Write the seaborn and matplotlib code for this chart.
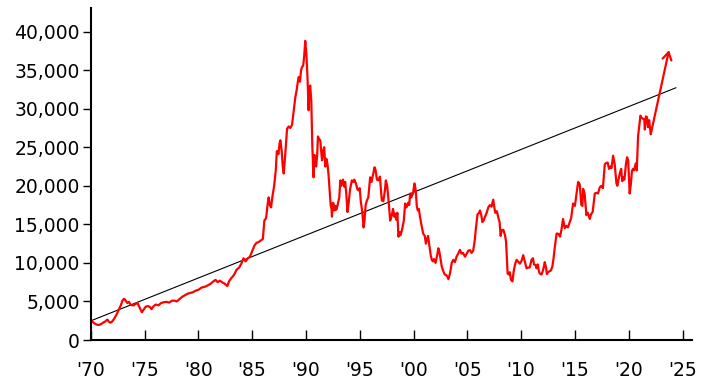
import matplotlib
matplotlib.use("Agg")
import matplotlib.pyplot as plt
import seaborn as sns
import pandas as pd

# ---- data ----
years = [
    1970.00, 1970.15, 1970.35, 1970.55, 1970.75, 1970.95, 1971.15, 1971.35, 1971.55, 1971.70,
    1971.85, 1972.00, 1972.20, 1972.40, 1972.60, 1972.80, 1972.95, 1973.10, 1973.25, 1973.40,
    1973.55, 1973.70, 1973.85, 1974.00, 1974.20, 1974.35, 1974.55, 1974.75, 1974.90, 1975.10,
    1975.30, 1975.50, 1975.65, 1975.85, 1976.05, 1976.30, 1976.55, 1976.80, 1977.05, 1977.30,
    1977.55, 1977.80, 1978.00, 1978.25, 1978.50, 1978.75, 1979.00, 1979.25, 1979.50, 1979.75,
    1980.00, 1980.30, 1980.60, 1980.90, 1981.15, 1981.40, 1981.60, 1981.80, 1982.00, 1982.20,
    1982.45, 1982.70, 1982.85, 1983.05, 1983.30, 1983.55, 1983.80, 1984.00, 1984.20, 1984.40,
    1984.60, 1984.80, 1985.00, 1985.20, 1985.40, 1985.60, 1985.80, 1986.00, 1986.14, 1986.30,
    1986.45, 1986.54, 1986.65, 1986.76, 1986.90, 1987.05, 1987.20, 1987.30, 1987.45, 1987.55,
    1987.63, 1987.75, 1987.85, 1987.94, 1988.05, 1988.15, 1988.25, 1988.40, 1988.55, 1988.71,
    1988.85, 1989.02, 1989.15, 1989.25, 1989.33, 1989.45, 1989.55, 1989.64, 1989.75, 1989.85,
    1989.94, 1990.05, 1990.15, 1990.25, 1990.33, 1990.40, 1990.50, 1990.60, 1990.71, 1990.80,
    1990.87, 1990.95, 1991.05, 1991.12, 1991.25, 1991.34, 1991.42, 1991.50, 1991.60, 1991.70,
    1991.80, 1991.90, 1992.00, 1992.10, 1992.20, 1992.30, 1992.38, 1992.42, 1992.50, 1992.57,
    1992.65, 1992.75, 1992.82, 1992.95, 1993.10, 1993.20, 1993.30, 1993.45, 1993.55, 1993.65,
    1993.75, 1993.87, 1993.95, 1994.10, 1994.20, 1994.27, 1994.40, 1994.50, 1994.65, 1994.80,
    1994.89, 1995.00, 1995.10, 1995.25, 1995.36, 1995.45, 1995.55, 1995.67, 1995.80, 1995.97,
    1996.10, 1996.25, 1996.38, 1996.48, 1996.60, 1996.75, 1996.88, 1997.00, 1997.06, 1997.20,
    1997.35, 1997.43, 1997.55, 1997.70, 1997.83, 1997.95, 1998.10, 1998.20, 1998.29, 1998.40,
    1998.50, 1998.60, 1998.70, 1998.80, 1998.95, 1999.10, 1999.22, 1999.35, 1999.50, 1999.60,
    1999.69, 1999.80, 1999.95, 2000.09, 2000.20, 2000.31, 2000.40, 2000.50, 2000.60, 2000.77,
    2000.90, 2001.05, 2001.15, 2001.23, 2001.35, 2001.50, 2001.60, 2001.70, 2001.80, 2001.90,
    2002.05, 2002.20, 2002.31, 2002.40, 2002.50, 2002.63, 2002.75, 2002.90, 2003.05, 2003.15,
    2003.24, 2003.35, 2003.45, 2003.55, 2003.70, 2003.85, 2004.00, 2004.15, 2004.32, 2004.45,
    2004.60, 2004.79, 2004.95, 2005.10, 2005.25, 2005.40, 2005.55, 2005.70, 2005.80, 2005.95,
    2006.10, 2006.18, 2006.30, 2006.40, 2006.52, 2006.65, 2006.80, 2006.95, 2007.10, 2007.25,
    2007.41, 2007.50, 2007.60, 2007.75, 2007.88, 2008.00, 2008.10, 2008.19, 2008.35, 2008.50,
    2008.60, 2008.75, 2008.85, 2008.95, 2009.06, 2009.20, 2009.30, 2009.45, 2009.58, 2009.70,
    2009.89, 2010.05, 2010.20, 2010.30, 2010.40, 2010.50, 2010.65, 2010.80, 2010.97, 2011.10,
    2011.20, 2011.35, 2011.43, 2011.55, 2011.65, 2011.74, 2011.90, 2012.05, 2012.20, 2012.30,
    2012.40, 2012.51, 2012.62, 2012.76, 2012.90, 2013.00, 2013.13, 2013.30, 2013.40, 2013.50,
    2013.62, 2013.75, 2013.90, 2014.06, 2014.20, 2014.35, 2014.53, 2014.65, 2014.83, 2015.00,
    2015.15, 2015.30, 2015.45, 2015.60, 2015.70, 2015.76, 2015.90, 2016.07, 2016.20, 2016.38,
    2016.50, 2016.65, 2016.85, 2017.00, 2017.15, 2017.31, 2017.45, 2017.60, 2017.78, 2017.95,
    2018.05, 2018.17, 2018.30, 2018.40, 2018.55, 2018.70, 2018.86, 2018.95, 2019.05, 2019.17,
    2019.30, 2019.40, 2019.48, 2019.60, 2019.75, 2019.85, 2019.95, 2020.09, 2020.20, 2020.30,
    2020.40, 2020.50, 2020.65, 2020.75, 2020.87, 2020.95, 2021.09, 2021.20, 2021.34, 2021.45,
    2021.50, 2021.60, 2021.70, 2021.80, 2021.90, 2022.05,
]
index_values = [
    2590, 2400, 2150, 2000, 1950, 2050, 2250, 2400, 2650, 2350,
    2250, 2400, 2800, 3300, 3900, 4500, 5100, 5350, 5100, 4800,
    4950, 4600, 4500, 4500, 4700, 4800, 4200, 3600, 3900, 4300,
    4400, 4300, 4000, 4400, 4600, 4500, 4800, 4900, 4950, 4850,
    5100, 5100, 5000, 5300, 5600, 5800, 6000, 6100, 6200, 6400,
    6500, 6800, 6900, 7100, 7300, 7600, 7800, 7500, 7700, 7500,
    7300, 7000, 7600, 8000, 8400, 9100, 9400, 9900, 10600, 10200,
    10600, 10800, 11500, 12200, 12600, 12700, 12900, 13100, 15500, 15800,
    17700, 18500, 17500, 17200, 18700, 20000, 22000, 24500, 24100, 25500,
    25900, 24500, 22500, 21600, 23500, 25500, 27400, 27700, 27500, 27900,
    29500, 31500, 32500, 33500, 34100, 33500, 35000, 35400, 35600, 37000,
    38800, 37000, 34000, 29800, 32500, 33000, 31000, 25000, 21100, 24000,
    23700, 22500, 24000, 26400, 26000, 25900, 24500, 23300, 24500, 25000,
    22500, 23500, 22900, 21500, 19500, 17500, 17000, 16000, 17800, 17700,
    16800, 17400, 16900, 17500, 18500, 20700, 20000, 20800, 19900, 20500,
    19000, 16600, 17500, 19500, 20200, 20700, 20500, 20800, 20300, 19500,
    19400, 19700, 18000, 16500, 14600, 15500, 17500, 18100, 18500, 21100,
    20500, 21500, 22400, 22000, 20800, 20700, 21200, 19000, 18100, 18000,
    19500, 20700, 20000, 17800, 15500, 16000, 17000, 16000, 16400, 15600,
    16500, 13400, 14000, 13600, 14400, 15500, 17700, 17200, 17800, 17500,
    19000, 18500, 19000, 20300, 19500, 17300, 16800, 17000, 16000, 14700,
    13800, 13500, 12500, 12900, 13500, 12000, 11000, 10400, 10200, 10500,
    10000, 11000, 11900, 11500, 10600, 9500, 9000, 8500, 8400, 8200,
    7900, 8400, 9100, 10000, 10400, 10100, 10800, 11200, 11700, 11200,
    11300, 10800, 11200, 11600, 11650, 11300, 11600, 13000, 14500, 16300,
    16500, 16800, 16200, 15300, 15500, 16000, 16500, 17200, 17500, 17300,
    18200, 17300, 16500, 16700, 15900, 15300, 13500, 14200, 14300, 13600,
    12800, 8600, 8500, 8800, 7800, 7600, 8800, 9900, 10400, 10200,
    9900, 10300, 11000, 10400, 9900, 9300, 9400, 9400, 10400, 10600,
    9800, 9700, 9300, 9800, 8950, 8600, 8500, 9100, 10100, 9500,
    8550, 8800, 8900, 9000, 9500, 10400, 12000, 13800, 13800, 13700,
    13400, 14300, 15700, 14500, 14800, 14600, 15300, 15800, 17700, 17400,
    19000, 20500, 20200, 17500, 17400, 19600, 19000, 16200, 16500, 15700,
    16300, 16600, 19000, 19100, 19000, 19800, 20000, 19700, 22800, 23000,
    23000, 22200, 22500, 22300, 23900, 22800, 20300, 20000, 20800, 21600,
    22200, 20600, 21100, 20800, 22900, 23700, 23300, 19000, 20200, 21900,
    22200, 22000, 22900, 22000, 26400, 27400, 29100, 28800, 28700, 28600,
    27300, 29000, 28900, 27600, 28500, 26700,
]

# arrow showing the later move (end point)
arrow_tip_year = 2023.75
arrow_tip_value = 37600

# linear trend line end points
trend_years = [1970.0, 2024.4]
trend_values = [2480, 32720]

ytick_values = [0, 5000, 10000, 15000, 20000, 25000, 30000, 35000, 40000]
ytick_labels = ["0", "5,000", "10,000", "15,000", "20,000", "25,000",
                "30,000", "35,000", "40,000"]
xtick_years = [1970, 1975, 1980, 1985, 1990, 1995, 2000, 2005, 2010, 2015, 2020, 2025]
xtick_labels = ["'70", "'75", "'80", "'85", "'90", "'95", "'00", "'05",
                "'10", "'15", "'20", "'25"]

# ---- plotting ----
sns.set_style("ticks")
plt.rcParams["font.family"] = ["DejaVu Sans"]

fig = plt.figure(figsize=(7.01, 3.84), dpi=100)
ax = fig.add_axes([90.7 / 701, 1 - 340 / 384, (691.7 - 90.7) / 701, (340 - 8.3) / 384])

df = pd.DataFrame({"year": years, "value": index_values})
trend_df = pd.DataFrame({"year": trend_years, "value": trend_values})

sns.lineplot(data=trend_df, x="year", y="value", ax=ax, color="black",
             linewidth=0.8, estimator=None, sort=False)
sns.lineplot(data=df, x="year", y="value", ax=ax, color="#ff0000",
             linewidth=1.6, estimator=None, sort=False)

ax.annotate("", xy=(arrow_tip_year, arrow_tip_value),
            xytext=(years[-1], index_values[-1]),
            arrowprops=dict(arrowstyle="->,head_length=0.45,head_width=0.27",
                            color="#ff0000", lw=1.6,
                            shrinkA=0, shrinkB=0, mutation_scale=12))

ax.set_xlim(1970, 1970 + (691.7 - 90.7) / 10.76)
ax.set_ylim(0, (340 - 8.3) / 7.71 * 1000)

ax.set_yticks(ytick_values)
ax.set_yticklabels(ytick_labels)
ax.set_xticks(xtick_years)
ax.set_xticklabels(xtick_labels)

ax.set_xlabel("")
ax.set_ylabel("")

sns.despine(ax=ax)
for side in ("left", "bottom"):
    ax.spines[side].set_linewidth(1.5)
    ax.spines[side].set_color("black")

ax.tick_params(axis="y", direction="out", length=6, width=1.0, pad=2,
               labelsize=13.5, colors="black")
ax.tick_params(axis="x", direction="in", length=7, width=1.0, pad=15,
               labelsize=13.5, colors="black")

fig.savefig("out.png", dpi=100, facecolor="white")
